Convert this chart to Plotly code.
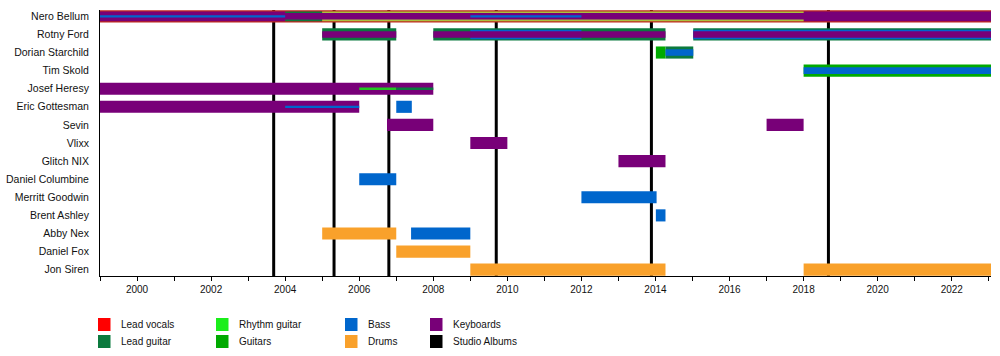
import plotly.graph_objects as go

# ---------------- data ----------------
MEMBERS = ["Nero Bellum", "Rotny Ford", "Dorian Starchild", "Tim Skold", "Josef Heresy",
           "Eric Gottesman", "Sevin", "Vlixx", "Glitch NIX", "Daniel Columbine",
           "Merritt Goodwin", "Brent Ashley", "Abby Nex", "Daniel Fox", "Jon Siren"]

START = 1999.0
END = 2023.06

# main (full-height) role bars: (member, start, end)
LEAD_VOCALS = [("Nero Bellum", 1999.0, END)]
LEAD_GUITAR = [("Rotny Ford", 2005.0, 2007.0), ("Rotny Ford", 2008.0, 2014.27),
               ("Rotny Ford", 2015.02, END), ("Dorian Starchild", 2014.27, 2015.02)]
GUITARS = [("Dorian Starchild", 2014.01, 2014.27), ("Tim Skold", 2018.0, END)]
KEYBOARDS = [("Josef Heresy", 1999.0, 2008.0), ("Eric Gottesman", 1999.0, 2006.0),
             ("Sevin", 2006.75, 2008.0), ("Sevin", 2017.0, 2018.0),
             ("Vlixx", 2009.0, 2010.0), ("Glitch NIX", 2013.0, 2014.27)]
BASS = [("Eric Gottesman", 2007.0, 2007.42), ("Daniel Columbine", 2006.0, 2007.0),
        ("Merritt Goodwin", 2012.0, 2014.03), ("Brent Ashley", 2014.01, 2014.27),
        ("Abby Nex", 2007.4, 2009.0)]
DRUMS = [("Abby Nex", 2005.0, 2007.0), ("Daniel Fox", 2007.0, 2009.0),
         ("Jon Siren", 2009.0, 2014.27), ("Jon Siren", 2018.0, END)]

# secondary roles (drawn as narrower bars inside)
KEYBOARDS_MID = [("Nero Bellum", 1999.0, 2004.0), ("Nero Bellum", 2018.0, END)]
LEAD_GUITAR_MID = [("Nero Bellum", 2004.0, 2005.0)]
RHYTHM_GUITAR_MID = [("Nero Bellum", 2005.0, 2018.0)]
BASS_MID = [("Rotny Ford", 2009.0, 2012.0), ("Rotny Ford", 2015.02, END)]

KEYBOARDS_INNER = [("Nero Bellum", 1999.0, END), ("Rotny Ford", 2005.0, 2007.0),
                   ("Rotny Ford", 2008.0, 2014.27), ("Rotny Ford", 2015.02, END)]
BASS_INNER = [("Dorian Starchild", 2014.27, 2015.02), ("Tim Skold", 2018.0, END)]

BASS_LINE = [("Nero Bellum", 1999.0, 2004.0), ("Nero Bellum", 2009.0, 2012.0),
             ("Eric Gottesman", 2004.0, 2006.0)]
RHYTHM_GUITAR_LINE = [("Josef Heresy", 2006.0, 2007.0)]
LEAD_GUITAR_LINE = [("Josef Heresy", 2007.0, 2008.0)]

STUDIO_ALBUMS = [2003.69, 2005.32, 2006.80, 2009.70, 2013.89, 2018.67]

TICK_YEARS = list(range(2000, 2023, 2))

LEGEND_ROWS = [["Lead vocals", "Rhythm guitar", "Bass", "Keyboards"],
               ["Lead guitar", "Guitars", "Drums", "Studio Albums"]]

# ---------------- styles ----------------
COLORS = {
    "Lead vocals": "#FF0000",
    "Lead guitar": "#0B7A3E",
    "Rhythm guitar": "#1AEE1A",
    "Guitars": "#00AA00",
    "Bass": "#0066CC",
    "Drums": "#F9A12B",
    "Keyboards": "#780078",
    "Studio Albums": "#000000",
}
NERO_RHYTHM_COLOR = "#A9C23F"   # thin rhythm-guitar ring as it appears blended
NERO_VOCAL_EDGE = "#C0281E"
FULL_W, MID_W, INNER_W, LINE_W = 0.67, 0.53, 0.36, 0.13

FONT = "Liberation Sans, Arial, sans-serif"
W, H = 1000, 356
ML, MR, MT, MB = 100, 9, 10, 80

fig = go.Figure()


def add_bars(entries, color, width):
    if not entries:
        return
    fig.add_trace(go.Bar(
        orientation="h",
        y=[e[0] for e in entries],
        x=[e[2] - e[1] for e in entries],
        base=[e[1] for e in entries],
        width=width,
        marker=dict(color=color, line=dict(width=0)),
        showlegend=False,
        hoverinfo="skip",
    ))


# full bars
add_bars(LEAD_VOCALS, NERO_VOCAL_EDGE, FULL_W)
add_bars(LEAD_GUITAR, COLORS["Lead guitar"], FULL_W)
add_bars(GUITARS, COLORS["Guitars"], FULL_W)
add_bars(KEYBOARDS, COLORS["Keyboards"], FULL_W)
add_bars(BASS, COLORS["Bass"], FULL_W)
add_bars(DRUMS, COLORS["Drums"], FULL_W)
# mid layer
add_bars(KEYBOARDS_MID, COLORS["Keyboards"], MID_W)
add_bars(LEAD_GUITAR_MID, COLORS["Lead guitar"], MID_W)
add_bars(RHYTHM_GUITAR_MID, NERO_RHYTHM_COLOR, MID_W)
add_bars(BASS_MID, COLORS["Bass"], MID_W)
# inner layer
add_bars(KEYBOARDS_INNER, COLORS["Keyboards"], INNER_W)
add_bars(BASS_INNER, COLORS["Bass"], INNER_W)
# thin lines
add_bars(BASS_LINE, COLORS["Bass"], LINE_W)
add_bars(RHYTHM_GUITAR_LINE, "#22C422", LINE_W)
add_bars(LEAD_GUITAR_LINE, COLORS["Lead guitar"], LINE_W)

# studio album lines (behind bars)
for yr in STUDIO_ALBUMS:
    fig.add_shape(type="line", xref="x", yref="paper", x0=yr, x1=yr, y0=0, y1=1,
                  line=dict(color=COLORS["Studio Albums"], width=3), layer="below")

# manual legend
plot_w = W - ML - MR
plot_h = H - MT - MB


def px_x(px):
    return (px - ML) / plot_w


def px_y(py):
    return (H - MB - py) / plot_h


col_x = [98, 216, 345, 430]
row_y = [318, 335]
for r, row in enumerate(LEGEND_ROWS):
    for c, name in enumerate(row):
        x0 = col_x[c]
        y0 = row_y[r]
        fig.add_shape(type="rect", xref="paper", yref="paper",
                      x0=px_x(x0), x1=px_x(x0 + 12.5), y0=px_y(y0 + 13), y1=px_y(y0),
                      fillcolor=COLORS[name], line=dict(width=0))
        fig.add_annotation(xref="paper", yref="paper", x=px_x(x0 + 21), y=px_y(y0 + 6.5),
                           text=name, showarrow=False, xanchor="left", yanchor="middle",
                           font=dict(family=FONT, size=10, color="#111"))

n = len(MEMBERS)
fig.update_layout(
    width=W, height=H,
    margin=dict(l=ML, r=MR, t=MT, b=MB, pad=0),
    barmode="overlay",
    hovermode=False,
    plot_bgcolor="white", paper_bgcolor="white",
    showlegend=False,
    font=dict(family=FONT, size=10, color="#111"),
    xaxis=dict(
        range=[START, END],
        tickmode="array", tickvals=TICK_YEARS, ticktext=[str(y) for y in TICK_YEARS],
        ticks="outside", ticklen=4, tickwidth=1, tickcolor="black",
        minor=dict(dtick=1, tick0=1999, ticks="outside", ticklen=4, tickcolor="black", showgrid=False),
        showline=True, linecolor="black", linewidth=1,
        showgrid=False, zeroline=False, automargin=False,
        tickfont=dict(family=FONT, size=10, color="#111"),
    ),
    yaxis=dict(
        categoryorder="array", categoryarray=MEMBERS,
        range=[n - 1 + 0.35, -0.35],
        showline=True, linecolor="black", linewidth=1,
        ticks="", showgrid=False, zeroline=False, automargin=False,
        ticklabelstandoff=8,
        tickfont=dict(family=FONT, size=10.5, color="#111"),
    ),
)

fig.write_html("out.html", config={"displayModeBar": False, "staticPlot": True},
               post_script="document.body.style.margin='0px';document.body.style.overflow='hidden';")
